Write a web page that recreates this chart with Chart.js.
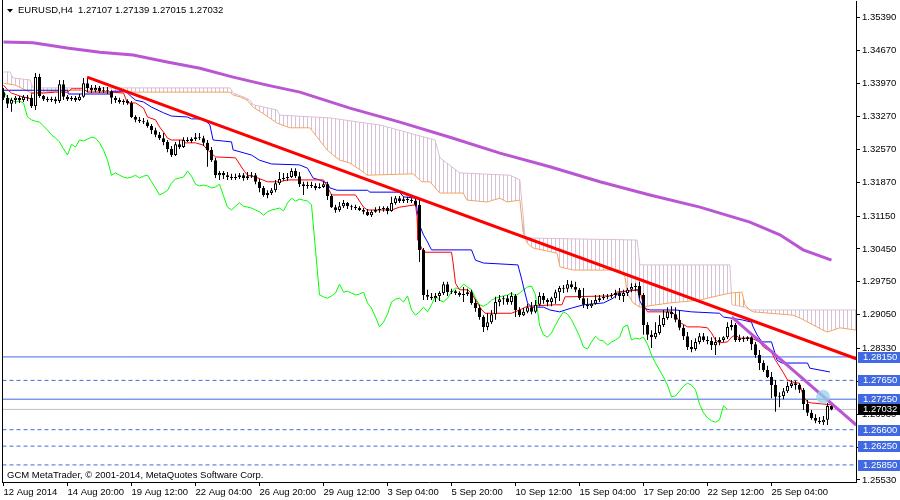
<!DOCTYPE html>
<html><head><meta charset="utf-8">
<script src="https://cdn.jsdelivr.net/npm/chart.js@4.4.1/dist/chart.umd.min.js"></script>
<style>html,body{margin:0;padding:0;background:#fff;}canvas{display:block;}</style>
</head><body>
<canvas id="c" width="900" height="500"></canvas>
<script>
const symbol = 'EURUSD,H4';
const copyright = 'GCM MetaTrader, \u00A9 2001-2014, MetaQuotes Software Corp.';
const opens = [
1.3379,1.3367,1.3354,1.3362,1.3367,1.3362,1.3369,1.3367,1.3349,1.3411,
1.3371,1.3364,1.3362,1.3364,1.3360,1.3396,1.3369,1.3364,1.3367,1.3362,
1.3369,1.3398,1.3388,1.3383,1.3388,1.3381,1.3383,1.3381,1.3367,1.3362,
1.3358,1.3360,1.3356,1.3326,1.3320,1.3317,1.3315,1.3307,1.3298,1.3288,
1.3281,1.3273,1.3258,1.3245,1.3268,1.3262,1.3277,1.3275,1.3279,1.3283,
1.3281,1.3271,1.3256,1.3234,1.3202,1.3207,1.3202,1.3198,1.3196,1.3198,
1.3202,1.3196,1.3200,1.3202,1.3188,1.3175,1.3160,1.3164,1.3170,1.3185,
1.3194,1.3196,1.3198,1.3211,1.3200,1.3183,1.3179,1.3181,1.3179,1.3175,
1.3177,1.3183,1.3158,1.3134,1.3128,1.3136,1.3143,1.3136,1.3134,1.3132,
1.3128,1.3124,1.3117,1.3124,1.3128,1.3130,1.3132,1.3126,1.3143,1.3153,
1.3147,1.3151,1.3149,1.3147,1.3139,1.3043,1.2947,1.2943,1.2940,1.2945,
1.2951,1.2970,1.2953,1.2955,1.2951,1.2947,1.2949,1.2953,1.2930,1.2919,
1.2900,1.2879,1.2889,1.2906,1.2932,1.2938,1.2940,1.2932,1.2945,1.2915,
1.2904,1.2911,1.2921,1.2911,1.2926,1.2945,1.2936,1.2932,1.2940,1.2953,
1.2962,1.2960,1.2970,1.2964,1.2958,1.2940,1.2926,1.2923,1.2928,1.2936,
1.2940,1.2943,1.2945,1.2947,1.2951,1.2945,1.2951,1.2958,1.2964,1.2966,
1.2947,1.2883,1.2862,1.2857,1.2866,1.2883,1.2898,1.2911,1.2906,1.2894,
1.2877,1.2859,1.2836,1.2832,1.2847,1.2859,1.2851,1.2849,1.2840,1.2847,
1.2851,1.2857,1.2879,1.2883,1.2851,1.2855,1.2853,1.2857,1.2842,1.2819,
1.2802,1.2787,1.2772,1.2755,1.2730,1.2732,1.2742,1.2753,1.2759,1.2755,
1.2745,1.2715,1.2696,1.2685,1.2679,1.2676,1.2681,1.27107];
const highs = [
1.3388,1.3373,1.3367,1.3371,1.3371,1.3373,1.3373,1.3373,1.3420,1.3418,
1.3373,1.3369,1.3369,1.3369,1.3405,1.3405,1.3373,1.3371,1.3371,1.3375,
1.3409,1.3409,1.3394,1.3394,1.3392,1.3390,1.3390,1.3383,1.3371,1.3367,
1.3364,1.3364,1.3360,1.3330,1.3326,1.3324,1.3320,1.3311,1.3303,1.3294,
1.3292,1.3277,1.3264,1.3273,1.3277,1.3283,1.3283,1.3283,1.3292,1.3292,
1.3286,1.3277,1.3262,1.3239,1.3211,1.3211,1.3209,1.3205,1.3205,1.3207,
1.3207,1.3209,1.3209,1.3207,1.3194,1.3179,1.3170,1.3175,1.3192,1.3209,
1.3207,1.3207,1.3217,1.3217,1.3209,1.3188,1.3188,1.3188,1.3185,1.3185,
1.3188,1.3188,1.3162,1.3139,1.3145,1.3149,1.3145,1.3139,1.3139,1.3136,
1.3132,1.3130,1.3128,1.3134,1.3136,1.3136,1.3136,1.3156,1.3158,1.3158,
1.3156,1.3156,1.3153,1.3153,1.3149,1.3047,1.2958,1.2951,1.2951,1.2955,
1.2975,1.2975,1.2960,1.2958,1.2955,1.2964,1.2960,1.2958,1.2938,1.2926,
1.2904,1.2908,1.2915,1.2943,1.2947,1.2945,1.2947,1.2953,1.2949,1.2921,
1.2919,1.2928,1.2932,1.2936,1.2953,1.2951,1.2940,1.2943,1.2958,1.2966,
1.2968,1.2979,1.2977,1.2975,1.2962,1.2962,1.2940,1.2936,1.2947,1.2947,
1.2949,1.2949,1.2951,1.2958,1.2962,1.2958,1.2962,1.2972,1.2972,1.2975,
1.2951,1.2889,1.2872,1.2889,1.2904,1.2915,1.2921,1.2923,1.2921,1.2915,
1.2883,1.2868,1.2851,1.2855,1.2866,1.2866,1.2859,1.2857,1.2857,1.2857,
1.2859,1.2889,1.2894,1.2887,1.2862,1.2859,1.2859,1.2859,1.2847,1.2830,
1.2808,1.2796,1.2783,1.2766,1.2740,1.2749,1.2762,1.2766,1.2764,1.2759,
1.2749,1.2723,1.2702,1.2693,1.2687,1.2689,1.2717,1.27139];
const lows = [
1.3362,1.3345,1.3337,1.3354,1.3356,1.3358,1.3360,1.3345,1.3341,1.3367,
1.3360,1.3358,1.3358,1.3354,1.3356,1.3362,1.3360,1.3360,1.3358,1.3360,
1.3367,1.3379,1.3377,1.3379,1.3377,1.3377,1.3375,1.3354,1.3356,1.3354,
1.3352,1.3352,1.3324,1.3315,1.3313,1.3311,1.3303,1.3290,1.3283,1.3277,
1.3266,1.3251,1.3241,1.3243,1.3258,1.3260,1.3273,1.3271,1.3275,1.3277,
1.3264,1.3220,1.3230,1.3196,1.3192,1.3194,1.3192,1.3192,1.3192,1.3194,
1.3190,1.3192,1.3196,1.3183,1.3166,1.3156,1.3153,1.3160,1.3166,1.3181,
1.3190,1.3190,1.3196,1.3196,1.3177,1.3160,1.3173,1.3175,1.3170,1.3173,
1.3175,1.3149,1.3132,1.3122,1.3124,1.3132,1.3130,1.3128,1.3128,1.3126,
1.3119,1.3115,1.3113,1.3122,1.3122,1.3124,1.3119,1.3124,1.3139,1.3143,
1.3143,1.3143,1.3143,1.3136,1.3017,1.2936,1.2936,1.2936,1.2932,1.2934,
1.2947,1.2945,1.2949,1.2947,1.2943,1.2932,1.2945,1.2926,1.2911,1.2894,
1.2868,1.2872,1.2885,1.2894,1.2923,1.2926,1.2926,1.2926,1.2900,1.2900,
1.2902,1.2908,1.2906,1.2908,1.2923,1.2928,1.2923,1.2923,1.2928,1.2934,
1.2951,1.2953,1.2960,1.2953,1.2936,1.2919,1.2917,1.2919,1.2926,1.2932,
1.2936,1.2938,1.2940,1.2940,1.2936,1.2932,1.2945,1.2953,1.2955,1.2940,
1.2862,1.2851,1.2834,1.2853,1.2862,1.2879,1.2894,1.2898,1.2889,1.2872,
1.2851,1.2830,1.2825,1.2828,1.2842,1.2847,1.2842,1.2830,1.2819,1.2840,
1.2847,1.2853,1.2872,1.2847,1.2847,1.2847,1.2849,1.2830,1.2813,1.2787,
1.2783,1.2770,1.2727,1.2698,1.2708,1.2725,1.2738,1.2749,1.2745,1.2738,
1.2702,1.2689,1.2681,1.2674,1.2672,1.2670,1.2670,1.27015];
const closes = [
1.3367,1.3354,1.3362,1.3367,1.3362,1.3369,1.3367,1.3349,1.3411,1.3371,
1.3364,1.3362,1.3364,1.3360,1.3396,1.3369,1.3364,1.3367,1.3362,1.3369,
1.3398,1.3388,1.3383,1.3388,1.3381,1.3383,1.3381,1.3367,1.3362,1.3358,
1.3360,1.3356,1.3326,1.3320,1.3317,1.3315,1.3307,1.3298,1.3288,1.3281,
1.3273,1.3258,1.3245,1.3268,1.3262,1.3277,1.3275,1.3279,1.3283,1.3281,
1.3271,1.3256,1.3234,1.3202,1.3207,1.3202,1.3198,1.3196,1.3198,1.3202,
1.3196,1.3200,1.3202,1.3188,1.3175,1.3160,1.3164,1.3170,1.3185,1.3194,
1.3196,1.3198,1.3211,1.3200,1.3183,1.3179,1.3181,1.3179,1.3175,1.3177,
1.3183,1.3158,1.3134,1.3128,1.3136,1.3143,1.3136,1.3134,1.3132,1.3128,
1.3124,1.3117,1.3124,1.3128,1.3130,1.3132,1.3126,1.3143,1.3153,1.3147,
1.3151,1.3149,1.3147,1.3139,1.3043,1.2947,1.2943,1.2940,1.2945,1.2951,
1.2970,1.2953,1.2955,1.2951,1.2947,1.2949,1.2953,1.2930,1.2919,1.2900,
1.2879,1.2889,1.2906,1.2932,1.2938,1.2940,1.2932,1.2945,1.2915,1.2904,
1.2911,1.2921,1.2911,1.2926,1.2945,1.2936,1.2932,1.2940,1.2953,1.2962,
1.2960,1.2970,1.2964,1.2958,1.2940,1.2926,1.2923,1.2928,1.2936,1.2940,
1.2943,1.2945,1.2947,1.2951,1.2945,1.2951,1.2958,1.2964,1.2966,1.2947,
1.2883,1.2862,1.2857,1.2866,1.2883,1.2898,1.2911,1.2906,1.2894,1.2877,
1.2859,1.2836,1.2832,1.2847,1.2859,1.2851,1.2849,1.2840,1.2847,1.2851,
1.2857,1.2879,1.2883,1.2851,1.2855,1.2853,1.2857,1.2842,1.2819,1.2802,
1.2787,1.2772,1.2755,1.2730,1.2732,1.2742,1.2753,1.2759,1.2755,1.2745,
1.2715,1.2696,1.2685,1.2679,1.2676,1.2681,1.27107,1.27032];

const chikouShift = 26;
const tenkanPts = [[0,1.3394],[1,1.3384],[2,1.3377],[4,1.3371],[7,1.3364],[7,1.3377],[10,1.3377],[13,1.3379],[16,1.3379],[17,1.3386],[20,1.3386],[21,1.3379],[27,1.3379],[30,1.3377],[31,1.3356],[33,1.3356],[35,1.3345],[36,1.3326],[38,1.3320],[39,1.3305],[40,1.3294],[41,1.3281],[42,1.3277],[45,1.3277],[45,1.3271],[48,1.3271],[50,1.3266],[51,1.3256],[53,1.3241],[58,1.3239],[60,1.3213],[61,1.3202],[63,1.3198],[66,1.3188],[69,1.3188],[71,1.3192],[80,1.3192],[81,1.3177],[82,1.3160],[88,1.3160],[90,1.3134],[91,1.3128],[97,1.3128],[99,1.3134],[103,1.3139],[103.4,1.3113],[103.6,1.3064],[105,1.3038],[112,1.3038],[112.4,1.3015],[113,1.2972],[114,1.2958],[116,1.2958],[117,1.2951],[118,1.2936],[119.6,1.2915],[120.4,1.2908],[127,1.2908],[129,1.2915],[131,1.2923],[138,1.2926],[139.6,1.2926],[140.4,1.2943],[152,1.2945],[153.3,1.2953],[159,1.2958],[160,1.2926],[161,1.2911],[167,1.2911],[168,1.2904],[169,1.2889],[171,1.2879],[174,1.2879],[176,1.2877],[177,1.2866],[178,1.2851],[179,1.2845],[181,1.2847],[182,1.2857],[183,1.2862],[184,1.2855],[187,1.2855],[189,1.2847],[190,1.2836],[192,1.2825],[193,1.2808],[195,1.2781],[196,1.2766],[197,1.2762],[199,1.2759],[200,1.2730],[201,1.2719],[202,1.2717],[207,1.2713]];
const kijunPts = [[0,1.3383],[16,1.3383],[16.2,1.3375],[27,1.3375],[27.2,1.3381],[30,1.3381],[31,1.3377],[32,1.3369],[33,1.3362],[35,1.3358],[37,1.3347],[40,1.3335],[42,1.3328],[46,1.3326],[47,1.3322],[50,1.3322],[51.6,1.3309],[52.4,1.3277],[57,1.3273],[57.4,1.3256],[62,1.3245],[64,1.3234],[67,1.3226],[74,1.3224],[76,1.3217],[77.4,1.3196],[79,1.3192],[81,1.3185],[81.6,1.3175],[83.4,1.3170],[91,1.3170],[91.6,1.3166],[99,1.3166],[100,1.3156],[103,1.3153],[103.4,1.3128],[104,1.3096],[105,1.3075],[106,1.3060],[107,1.3043],[117,1.3043],[118,1.3021],[120,1.3015],[128.6,1.3011],[129.6,1.2979],[130,1.2964],[131,1.2930],[132,1.2921],[135,1.2921],[136.6,1.2915],[139,1.2911],[142,1.2919],[145,1.2926],[150,1.2930],[152.4,1.2940],[154,1.2953],[158.6,1.2958],[159,1.2936],[160,1.2919],[161.6,1.2915],[168,1.2915],[172,1.2911],[179,1.2908],[180,1.2900],[184.6,1.2894],[187,1.2889],[187.4,1.2879],[188.4,1.2862],[189.6,1.2847],[192,1.2847],[193.4,1.2808],[194.6,1.2802],[201,1.2802],[201.6,1.2791],[206.6,1.2783]];
const spanAPts = [[0,1.3398],[2.9,1.3394],[7.1,1.3377],[9.9,1.3379],[15.9,1.3383],[30.9,1.3379],[56.6,1.3379],[57.4,1.3373],[59.1,1.3369],[60.9,1.3362],[62.4,1.3347],[65.9,1.3328],[68.4,1.3313],[71.6,1.3303],[76.6,1.3303],[80.9,1.3256],[82.4,1.3245],[84.1,1.3234],[86.6,1.3228],[89.9,1.3209],[90.9,1.3202],[102.4,1.3205],[104.6,1.3188],[106.6,1.3188],[109.1,1.3164],[114.9,1.3164],[115.9,1.3149],[120.9,1.3145],[122.4,1.3149],[124.1,1.3153],[125.9,1.3145],[129.1,1.3149],[129.9,1.3081],[130.9,1.3058],[132.4,1.3047],[138.4,1.3036],[139.1,1.3007],[142.4,1.3000],[154.1,1.3000],[155.4,1.2985],[155.9,1.2951],[157.4,1.2930],[159.1,1.2921],[166.6,1.2930],[174.1,1.2936],[175.9,1.2940],[181.6,1.2951],[184.6,1.2953],[185.4,1.2926],[186.6,1.2915],[187.4,1.2911],[197.4,1.2904],[199.1,1.2898],[204.9,1.2872],[205.9,1.2868],[209.1,1.2877],[213.2,1.2872]];
const spanBPts = [[0,1.3422],[1.6,1.3422],[2.4,1.3409],[6.6,1.3405],[7.4,1.3388],[56.6,1.3388],[57.4,1.3377],[59.9,1.3369],[61.6,1.3362],[62.4,1.3352],[68.4,1.3341],[69.1,1.3330],[81.6,1.3324],[94.1,1.3309],[107.9,1.3277],[109.1,1.3239],[114.1,1.3207],[126.6,1.3202],[129.1,1.3192],[129.6,1.3143],[130.4,1.3070],[132.4,1.3068],[158.4,1.3064],[159.1,1.3011],[181.6,1.3011],[182.1,1.2926],[185.4,1.2921],[186.6,1.2915],[213.2,1.2915]];
const maPts = [[0,1.3486],[7.4,1.3484],[15.9,1.3473],[24.1,1.3464],[32.4,1.3458],[40.9,1.3443],[49.1,1.3430],[57.4,1.3411],[65.9,1.3394],[74.1,1.3379],[86.6,1.3345],[99.1,1.3315],[111.6,1.3283],[124.1,1.3249],[136.6,1.3220],[149.1,1.3188],[161.6,1.3160],[174.1,1.3134],[186.6,1.3102],[194.1,1.3075],[199.9,1.3043],[207,1.3021]];
const trendRedPts = [[20.9,1.3411],[213.2,1.2811]];
const trendPurplePts = [[182.1,1.2900],[213.2,1.2670]];
const markerPt = [204.9, 1.2730];
const levelsSolid = [1.28150, 1.27250];
const levelsDashed = [1.27650, 1.26600, 1.26250, 1.25850];
const bidPrice = 1.27032;
const xTickBars = [0,16,32,48,64,80,96,112,128,144,160,176,192];
const xTickLabels = ['12 Aug 2014','14 Aug 20:00','19 Aug 12:00','22 Aug 04:00','26 Aug 20:00','29 Aug 12:00','3 Sep 04:00','5 Sep 20:00','10 Sep 12:00','15 Sep 04:00','17 Sep 20:00','22 Sep 12:00','25 Sep 04:00'];
const yTickValues = [1.35390,1.34670,1.33970,1.33270,1.32570,1.31870,1.31150,1.30450,1.29750,1.29050,1.28330,1.27630,1.26930,1.26230,1.25530];

const FAMILY = "Tahoma, 'Liberation Sans', Arial, sans-serif";
const chartFont = {family: FAMILY, size: 9.5};
const canvas = document.getElementById('c');
const ctx = canvas.getContext('2d');
function hatch(color){
  const c = document.createElement('canvas'); c.width = 4; c.height = 4;
  const g = c.getContext('2d'); g.fillStyle = color; g.fillRect(3,0,1,4);
  return ctx.createPattern(c,'repeat');
}
const pts = a => a.map(p => ({x:p[0], y:p[1]}));
const idx = opens.map((o,i) => i);
const wickData = idx.map(i => ({x:i, y:[lows[i], highs[i]]}));
const bodyData = idx.map(i => ({x:i, y:[opens[i], closes[i]]}));
const bodyFill = idx.map(i => closes[i] > opens[i] ? '#FFFFFF' : '#000000');
const chikouData = closes.slice(chikouShift).map((c,k) => ({x:k, y:c}));
const lineDs = (data, color, width, order, extra) => Object.assign({
  type:'line', data, borderColor:color, borderWidth:width, pointRadius:0, tension:0,
  fill:false, order, borderCapStyle:'butt', borderJoinStyle:'miter'}, extra || {});
const hline = (v, dash, color, order) => lineDs([{x:-2,y:v},{x:215,y:v}], color, 1, order, {borderDash:dash});

const datasets = [
  {type:'bubble', data:[{x:markerPt[0], y:markerPt[1], r:7}], backgroundColor:'rgba(150,210,232,0.75)', borderWidth:0, order:0},
  lineDs(pts(trendRedPts), '#FF0000', 3, 1),
  lineDs(pts(trendPurplePts), '#BA55D3', 3, 1),
  {type:'bar', data:bodyData, backgroundColor:bodyFill, borderColor:'#000', borderWidth:1, borderSkipped:false,
   barThickness:3, grouped:false, minBarLength:1, inflateAmount:0, order:2},
  {type:'bar', data:wickData, backgroundColor:'#000', borderWidth:0, barThickness:1, grouped:false, inflateAmount:0, order:3},
  lineDs(pts(tenkanPts), '#FF0000', 1, 4),
  lineDs(pts(kijunPts), '#0000FF', 1, 5),
  lineDs(chikouData, '#00FF00', 1, 6),
  lineDs(pts(maPts), '#BA55D3', 3, 7),
  lineDs(pts(spanBPts), '#D8BFD8', 1, 9),
  lineDs(pts(spanAPts), '#F4A460', 1, 8, {fill:{target:'-1', above:hatch('#F4A460'), below:hatch('#D8BFD8')}}),
  hline(bidPrice, [], '#C0C0C0', 10)
];
levelsSolid.forEach(v => datasets.push(hline(v, [], '#4169E1', 11)));
levelsDashed.forEach(v => datasets.push(hline(v, [4,3], '#4169E1', 11)));

const decor = {
  id:'decor',
  afterDraw(chart){
    const c = chart.ctx, a = chart.chartArea, y = chart.scales.y;
    const last = closes.length - 1;
    c.save();
    c.strokeStyle = '#000'; c.lineWidth = 1;
    c.beginPath(); c.moveTo(a.left + 0.5, 0); c.lineTo(a.left + 0.5, a.bottom); c.stroke();
    c.fillStyle = '#000';
    c.beginPath(); c.moveTo(7,9); c.lineTo(13,9); c.lineTo(10,12.5); c.closePath(); c.fill();
    c.font = '9.5px ' + FAMILY; c.textBaseline = 'middle'; c.textAlign = 'left';
    c.fillText(symbol, 18, 10.5);
    c.fillText([opens[last], highs[last], lows[last], closes[last]].map(v => v.toFixed(5)).join(' '), 78, 10.5);
    c.fillText(copyright, 7, 475);
    const box = (v, bg) => {
      const py = Math.round(y.getPixelForValue(v));
      c.fillStyle = bg; c.fillRect(y.left + 2, py - 5, chart.width - y.left - 2, 11);
      c.fillStyle = '#FFFFFF'; c.fillText(v.toFixed(5), y.left + 7, py + 0.5);
    };
    levelsSolid.concat(levelsDashed).forEach(v => box(v, '#4169E1'));
    box(bidPrice, '#000000');
    c.restore();
  }
};

new Chart(ctx, {
  type:'line',
  data:{datasets},
  options:{
    responsive:false, animation:false, devicePixelRatio:1, events:[],
    layout:{autoPadding:false, padding:{left:2, top:1, right:0, bottom:0}},
    plugins:{legend:{display:false}, tooltip:{enabled:false}},
    scales:{
      x:{type:'linear', position:'bottom', min:-0.375, max:213.125, offset:false,
        afterBuildTicks: s => { s.ticks = xTickBars.map(v => ({value:v})); },
        afterFit: s => { s.height = 18; s.paddingLeft = 0; s.paddingRight = 0; },
        ticks:{autoSkip:false, maxRotation:0, minRotation:0, align:'start', padding:1, color:'#000', font:chartFont,
          callback:(v,i) => xTickLabels[i]},
        grid:{offset:false, drawOnChartArea:false, drawTicks:true, tickLength:4, color:'#000', tickColor:'#000'},
        border:{display:true, color:'#000', width:1}},
      y:{type:'linear', position:'right', min:1.25486, max:1.35731, offset:false,
        afterBuildTicks: s => { s.ticks = yTickValues.map(v => ({value:v})); },
        afterFit: s => { s.width = 44; s.paddingTop = 0; s.paddingBottom = 0; },
        ticks:{autoSkip:false, padding:2, color:'#000', font:chartFont, callback:v => Number(v).toFixed(5)},
        grid:{drawOnChartArea:false, drawTicks:true, tickLength:4, color:'#000', tickColor:'#000'},
        border:{display:true, color:'#000', width:1}}
    }
  },
  plugins:[decor]
});
</script>
</body></html>
